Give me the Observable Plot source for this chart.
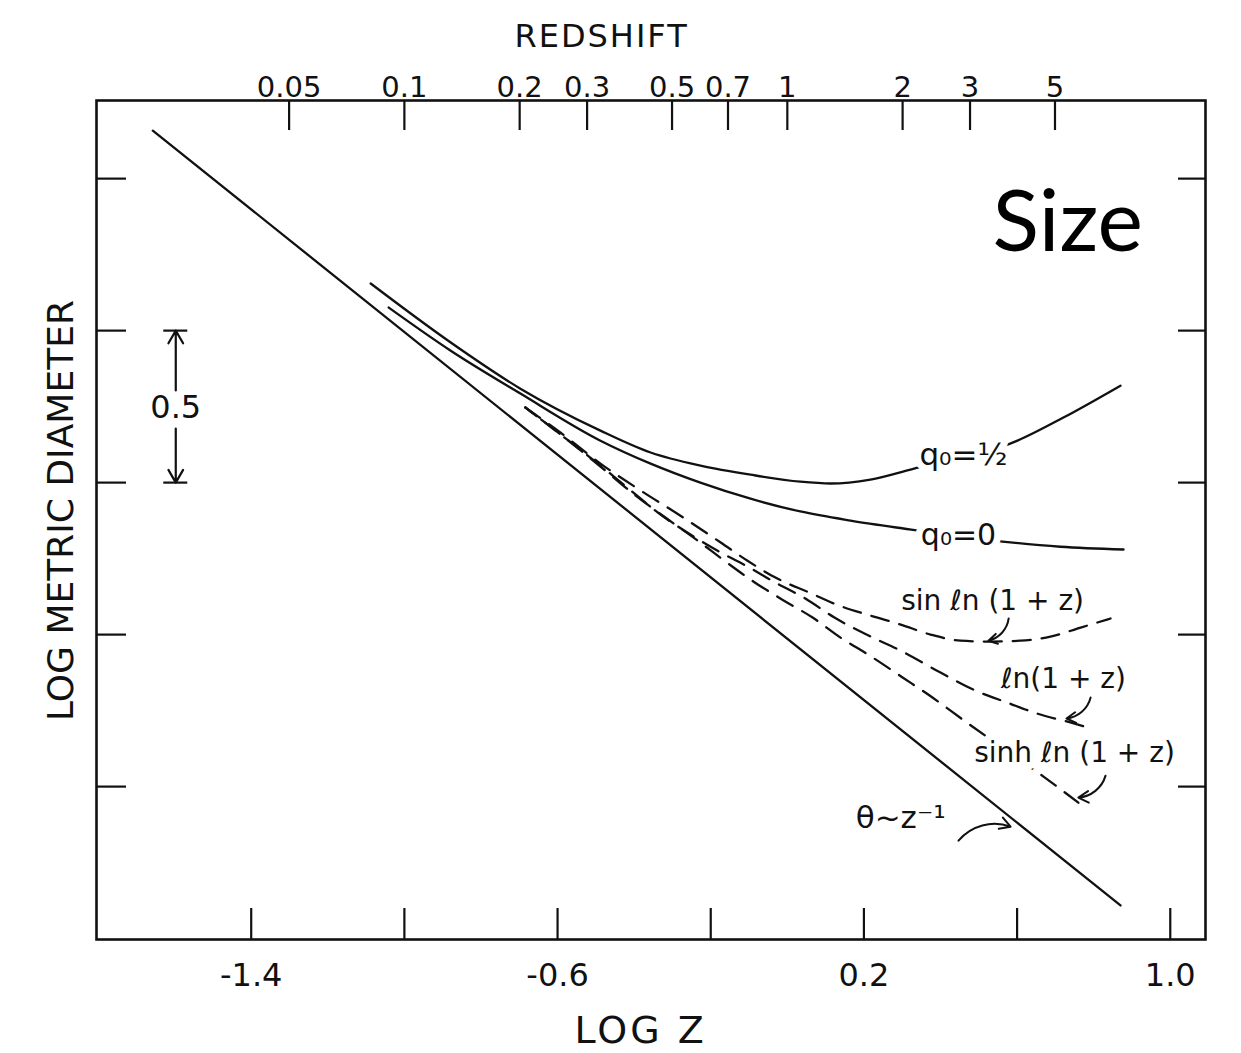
<!DOCTYPE html>
<html><head><meta charset="utf-8">
<script src="https://cdn.jsdelivr.net/npm/d3@7"></script>
<script src="https://cdn.jsdelivr.net/npm/@observablehq/plot@0.6"></script>
<style>body{margin:0;background:#fff} svg{display:block}</style>
</head><body><div id="chart"></div>
<script>
// ---- data (x = log z, y = log metric diameter, arbitrary zero) ----
const thetaX = [-1.657, 0.870];
const thetaY = [1.158, -1.391];

const q05X = [-1.088, -0.879, -0.697, -0.488, -0.357, -0.227, -0.096, 0.034, 0.113, 0.217, 0.322, 0.601, 0.721, 0.870];
const q05Y = [0.655, 0.461, 0.309, 0.171, 0.099, 0.056, 0.026, 0.003, -0.003, 0.010, 0.043, 0.138, 0.214, 0.319];

const q0X = [-1.041, -0.879, -0.697, -0.488, -0.357, -0.227, -0.096, 0.034, 0.165, 0.303, 0.562, 0.713, 0.878];
const q0Y = [0.576, 0.434, 0.293, 0.138, 0.0625, 0.0, -0.053, -0.095, -0.125, -0.151, -0.194, -0.211, -0.220];

const sinX = [-0.684, -0.592, -0.488, -0.383, -0.279, -0.174, -0.104, -0.031, 0.058, 0.136, 0.217, 0.296, 0.374, 0.452, 0.531, 0.609, 0.687, 0.766, 0.844];
const sinY = [0.247, 0.164, 0.0625, -0.026, -0.109, -0.197, -0.257, -0.3125, -0.362, -0.405, -0.4375, -0.467, -0.5, -0.520, -0.523, -0.520, -0.507, -0.477, -0.447];

const lnX = [-0.684, -0.592, -0.488, -0.409, -0.331, -0.253, -0.174, -0.104, -0.031, 0.048, 0.123, 0.212, 0.296, 0.400, 0.491, 0.575, 0.653, 0.739, 0.786];
const lnY = [0.247, 0.158, 0.056, -0.026, -0.105, -0.171, -0.230, -0.276, -0.329, -0.382, -0.444, -0.503, -0.553, -0.625, -0.684, -0.724, -0.760, -0.789, -0.806];

const sinhX = [-0.684, -0.592, -0.488, -0.396, -0.315, -0.234, -0.161, -0.088, -0.013, 0.066, 0.139, 0.215, 0.301, 0.379, 0.465, 0.557, 0.669, 0.760];
const sinhY = [0.247, 0.158, 0.053, -0.043, -0.118, -0.191, -0.260, -0.326, -0.385, -0.444, -0.510, -0.569, -0.641, -0.707, -0.786, -0.868, -0.967, -1.053];

// ---- axes ----
const xDomain = [-1.804, 1.092];
const yDomain = [-1.503, 1.257];
const logzTicks = [-1.4, -1.0, -0.6, -0.2, 0.2, 0.6, 1.0];
const logzLabels = [-1.4, -0.6, 0.2, 1.0];
const redshiftValues = [0.05, 0.1, 0.2, 0.3, 0.5, 0.7, 1, 2, 3, 5];
const redshiftLabels = ["0.05", "0.1", "0.2", "0.3", "0.5", "0.7", "1", "2", "3", "5"];
const diameterTicks = [-1, -0.5, 0, 0.5, 1];

// ---- annotations ----
const curveLabels = [
  {x: 0.460, y: 0.089, text: "q₀=½", size: 31},
  {x: 0.447, y: -0.174, text: "q₀=0", size: 30},
  {x: 0.536, y: -0.391, text: "sin ℓn (1 + z)", size: 28},
  {x: 0.721, y: -0.645, text: "ℓn(1 + z)", size: 28},
  {x: 0.750, y: -0.891, text: "sinh ℓn (1 + z)", size: 28},
  {x: 0.296, y: -1.105, text: "θ~z⁻¹", size: 31}
];
const pointerArrows = [
  {x1: 0.578, y1: -0.447, x2: 0.525, y2: -0.520},
  {x1: 0.792, y1: -0.707, x2: 0.729, y2: -0.776},
  {x1: 0.831, y1: -0.964, x2: 0.760, y2: -1.036},
  {x1: 0.447, y1: -1.178, x2: 0.583, y2: -1.132}
];
const scaleBar = {x: -1.597, top: 0.5, bottom: 0, label: "0.5", gapTop: 0.303, gapBottom: 0.178, labelY: 0.247};
const titles = [
  {x: -0.485, y: 1.467, text: "REDSHIFT", size: 32, rotate: 0},
  {x: -0.383, y: -1.803, text: "LOG Z", size: 38, rotate: 0},
  {x: -1.896, y: -0.092, text: "LOG METRIC DIAMETER", size: 36, rotate: -90}
];
const sizeTitle = {x: 0.536, y: 0.763, text: "Size"};

const rows = (xs, ys) => xs.map((x, i) => ({x, y: ys[i]}));
const plotH = 1053 - 100 - 114, plotW = 1241 - 96 - 36;
const pxY = (yDomain[1] - yDomain[0]) / plotH;
const pxX = (xDomain[1] - xDomain[0]) / plotW;
const ink = "#111";
const lineW = 2.3;
const dash = "18,11";

const plot = Plot.plot({
  width: 1241, height: 1053,
  marginLeft: 96, marginRight: 36, marginTop: 100, marginBottom: 114,
  x: {domain: xDomain, axis: null},
  y: {domain: yDomain, axis: null},
  style: {fontFamily: "'DejaVu Sans', sans-serif", background: "#fff", color: ink},
  marks: [
    Plot.frame({stroke: ink, strokeWidth: 2.6}),
    // ticks (inward)
    Plot.ruleX(logzTicks, {x: d => d, y1: yDomain[0], y2: yDomain[0] + 31 * pxY, stroke: ink, strokeWidth: 2.2}),
    Plot.ruleX(redshiftValues.map(Math.log10), {x: d => d, y1: yDomain[1] - 30 * pxY, y2: yDomain[1], stroke: ink, strokeWidth: 2.2}),
    Plot.ruleY(diameterTicks, {y: d => d, x1: xDomain[0], x2: xDomain[0] + 30 * pxX, stroke: ink, strokeWidth: 2.2}),
    Plot.ruleY(diameterTicks, {y: d => d, x1: xDomain[1] - 27 * pxX, x2: xDomain[1], stroke: ink, strokeWidth: 2.2}),
    // axis labels
    Plot.axisX({anchor: "bottom", ticks: logzLabels, tickSize: 0, tickPadding: 24, fontSize: 32,
      tickFormat: d => d.toFixed(1), label: null}),
    Plot.axisX({anchor: "top", ticks: redshiftValues.map(Math.log10), tickSize: 0, tickPadding: 4, fontSize: 29,
      tickFormat: d => redshiftLabels[redshiftValues.findIndex(v => Math.abs(Math.log10(v) - d) < 1e-9)], label: null}),
    // curves
    Plot.line(rows(thetaX, thetaY), {x: "x", y: "y", stroke: ink, strokeWidth: lineW}),
    Plot.line(rows(q05X, q05Y), {x: "x", y: "y", curve: "monotone-x", stroke: ink, strokeWidth: lineW}),
    Plot.line(rows(q0X, q0Y), {x: "x", y: "y", curve: "monotone-x", stroke: ink, strokeWidth: lineW}),
    Plot.line(rows(sinX, sinY), {x: "x", y: "y", curve: "monotone-x", stroke: ink, strokeWidth: lineW, strokeDasharray: dash}),
    Plot.line(rows(lnX, lnY), {x: "x", y: "y", curve: "monotone-x", stroke: ink, strokeWidth: lineW, strokeDasharray: dash, strokeDashoffset: 9}),
    Plot.line(rows(sinhX, sinhY), {x: "x", y: "y", curve: "monotone-x", stroke: ink, strokeWidth: lineW, strokeDasharray: dash, strokeDashoffset: 4}),
    // curve labels with halo
    Plot.text(curveLabels, {x: "x", y: "y", text: "text", fontSize: d => d.size, fill: ink, stroke: "white", strokeWidth: 14}),
    Plot.arrow(pointerArrows, {x1: "x1", y1: "y1", x2: "x2", y2: "y2", bend: 35, headLength: 9, stroke: ink, strokeWidth: 2}),
    // scale bar
    Plot.arrow([{x: scaleBar.x, a: scaleBar.gapTop, b: scaleBar.top}, {x: scaleBar.x, a: scaleBar.gapBottom, b: scaleBar.bottom}],
      {x1: "x", x2: "x", y1: "a", y2: "b", headLength: 10, stroke: ink, strokeWidth: 2.2}),
    Plot.ruleY([scaleBar.top, scaleBar.bottom], {y: d => d, x1: scaleBar.x - 12 * pxX, x2: scaleBar.x + 12 * pxX, stroke: ink, strokeWidth: 2.2}),
    Plot.text([scaleBar], {x: "x", y: "labelY", text: "label", fontSize: 32, fill: ink}),
    // titles
    Plot.text(titles, {x: "x", y: "y", text: "text", fontSize: d => d.size, rotate: "rotate", fill: ink}),
    Plot.text([sizeTitle], {x: "x", y: "y", text: "text", fontFamily: "Lato", fontSize: 86, textAnchor: "start", lineAnchor: "bottom", fill: "#000"})
  ]
});

d3.select(plot).selectAll("text").filter(function () { return this.textContent === "REDSHIFT"; }).style("letter-spacing", "2px");
d3.select(plot).selectAll("text").filter(function () { return this.textContent === "LOG Z"; }).style("letter-spacing", "3px");
document.getElementById("chart").appendChild(plot);
</script>
</body></html>
